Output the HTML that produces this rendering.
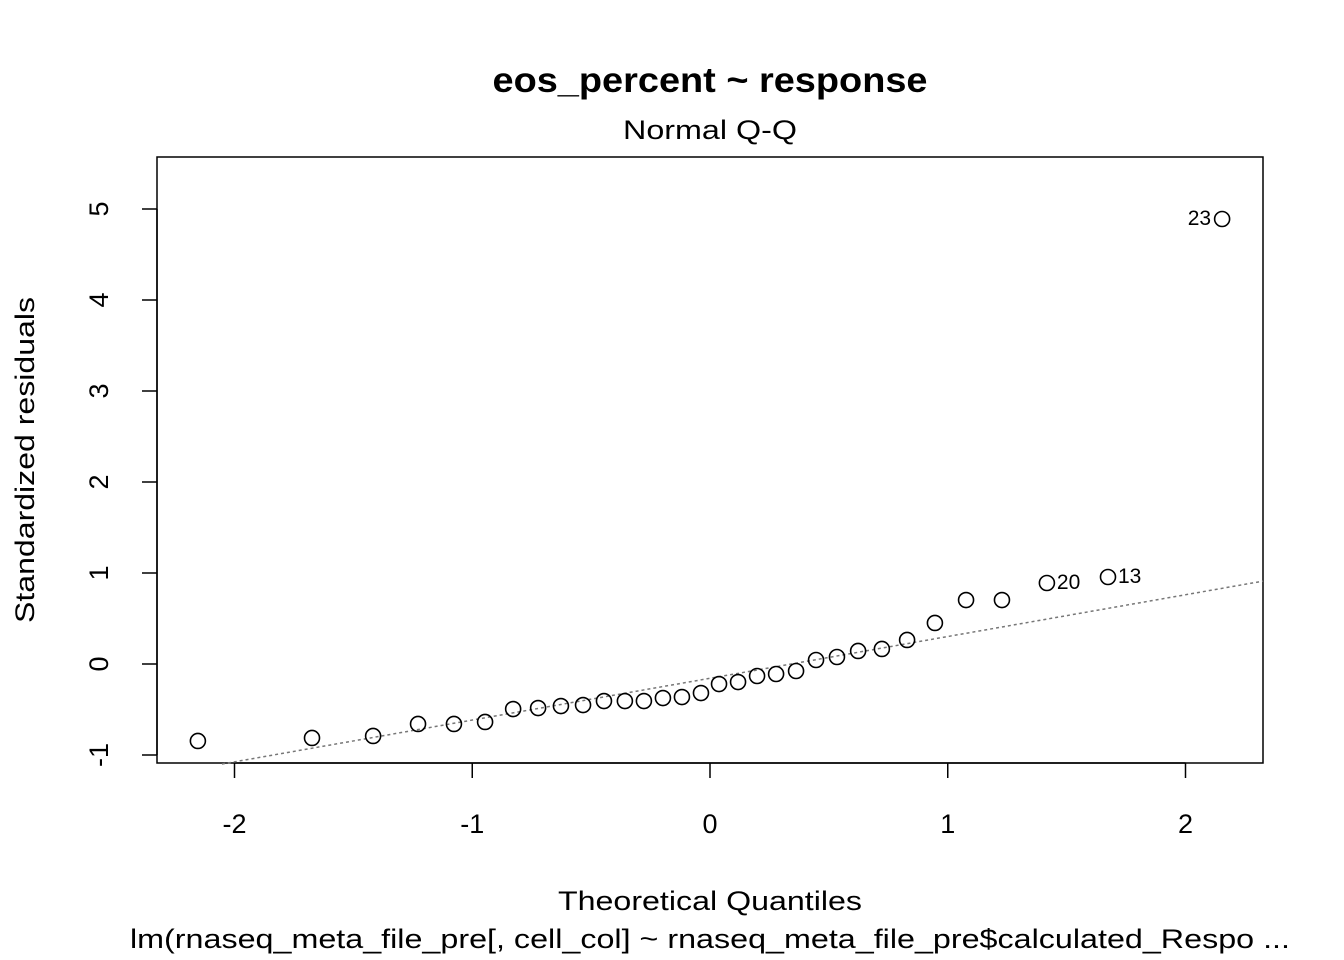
<!DOCTYPE html>
<html><head><meta charset="utf-8"><style>
body{margin:0;background:#fff;}
svg{display:block;font-family:"Liberation Sans",Arial,sans-serif;}
</style></head><body>
<svg id="chart" width="1344" height="960" viewBox="0 0 1344 960">
<text x="710" y="92" text-anchor="middle" font-size="35" font-weight="bold" textLength="435" lengthAdjust="spacingAndGlyphs">eos_percent ~ response</text>
<text x="710" y="139" text-anchor="middle" font-size="27" textLength="174" lengthAdjust="spacingAndGlyphs">Normal Q-Q</text>
<rect x="157" y="157" width="1106" height="606" fill="none" stroke="#000" stroke-width="1.5"/>
<text x="710" y="910" text-anchor="middle" font-size="27" textLength="304" lengthAdjust="spacingAndGlyphs">Theoretical Quantiles</text>
<text x="710" y="948" text-anchor="middle" font-size="27" textLength="1160" lengthAdjust="spacingAndGlyphs">lm(rnaseq_meta_file_pre[, cell_col] ~ rnaseq_meta_file_pre$calculated_Respo ...</text>
<text transform="translate(34,460) rotate(-90)" text-anchor="middle" font-size="27" textLength="326" lengthAdjust="spacingAndGlyphs">Standardized residuals</text>
<g id="axes"></g>
<g id="marks"></g>
</svg>
<script>
const xTicks=[-2,-1,0,1,2];
const yTicks=[-1,0,1,2,3,4,5];
const theoretical=[-2.154,-1.674,-1.417,-1.228,-1.077,-0.946,-0.828,-0.723,-0.627,-0.534,-0.446,-0.358,-0.278,-0.198,-0.118,-0.038,0.038,0.118,0.198,0.278,0.362,0.446,0.534,0.623,0.723,0.829,0.946,1.077,1.228,1.417,1.674,2.154];
const residuals=[-0.846,-0.813,-0.791,-0.659,-0.659,-0.637,-0.495,-0.484,-0.462,-0.451,-0.407,-0.407,-0.407,-0.374,-0.363,-0.319,-0.220,-0.198,-0.132,-0.110,-0.077,0.044,0.077,0.143,0.165,0.264,0.451,0.703,0.703,0.890,0.956,4.89];
const pointLabels=["","","","","","","","","","","","","","","","","","","","","","","","","","","","","","20","13","23"];
const lineSlope=0.459, lineIntercept=-0.157;
const X=v=>710+v*237.75;
const Y=v=>664-v*91;
const NS="http://www.w3.org/2000/svg";
const axes=document.getElementById('axes'), marks=document.getElementById('marks');
function mk(tag,attrs,parent){const e=document.createElementNS(NS,tag);for(const k in attrs)e.setAttribute(k,attrs[k]);parent.appendChild(e);return e;}
mk('line',{x1:X(-2),x2:X(2),y1:763,y2:763,stroke:'#000','stroke-width':1.5},axes);
xTicks.forEach(t=>{
  const l=mk('line',{x1:X(t),x2:X(t),y1:763,y2:778,stroke:'#000','stroke-width':1.5},axes);
  
  
  const tx=mk('text',{x:X(t),y:833,'text-anchor':'middle','font-size':27},axes);
  tx.textContent=t;
  
  
});
mk('line',{x1:157,x2:157,y1:Y(-1),y2:Y(5),stroke:'#000','stroke-width':1.5},axes);
yTicks.forEach(t=>{
  const l=mk('line',{x1:142,x2:157,y1:Y(t),y2:Y(t),stroke:'#000','stroke-width':1.5},axes);
  
  
  const tx=mk('text',{transform:`translate(108,${Y(t)}) rotate(-90)`,'text-anchor':'middle','font-size':27},axes);
  tx.textContent=t;
  
  
});
const xa=-2.053, xb=2.326;
const ref=mk('line',{x1:X(xa),y1:Y(lineIntercept+lineSlope*xa),x2:X(xb),y2:Y(lineIntercept+lineSlope*xb),stroke:'#777','stroke-width':1.5,'stroke-dasharray':'3,3'},marks);


theoretical.forEach((tq,i)=>{
  const c=mk('circle',{cx:X(tq),cy:Y(residuals[i]),r:7.5,fill:'none',stroke:'#000','stroke-width':1.6},marks);
  
  
  const lab=pointLabels[i];
  if(lab){
    const left = residuals[i]>3;
    const tx=mk('text',{x:X(tq)+(left?-11:10),y:Y(residuals[i])+6,'text-anchor':left?'end':'start','font-size':21},marks);
    tx.textContent=lab;
    
    
  }
});
</script>
</body></html>
